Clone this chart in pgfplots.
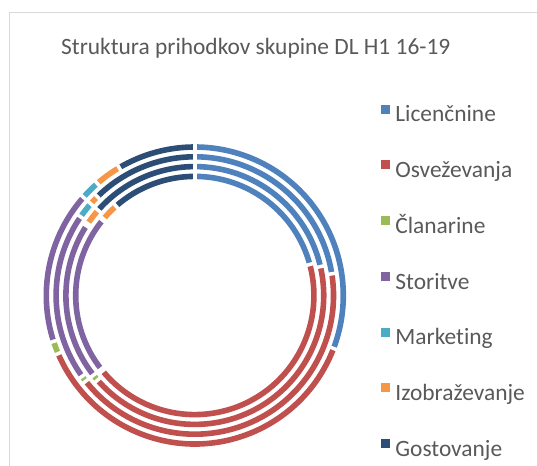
\documentclass[border=0pt]{standalone}
\usepackage{fontspec}
\setmainfont{Carlito}[Ligatures=NoCommon]
\usepackage{pgfplots}
\usepackage{pgfplotstable}
\pgfplotsset{compat=1.18}
\definecolor{cLic}{HTML}{4F81BD}
\definecolor{cOsv}{HTML}{C0504D}
\definecolor{cCla}{HTML}{9BBB59}
\definecolor{cSto}{HTML}{8064A2}
\definecolor{cMkt}{HTML}{4BACC6}
\definecolor{cIzo}{HTML}{F79646}
\definecolor{cGos}{HTML}{2C4D75}
\definecolor{txt}{HTML}{595959}
\definecolor{framec}{HTML}{D9D9D9}

% shares in percent; r1 = inner ring (H1 16) ... r4 = outer ring (H1 19)
\pgfplotstableread{
cat  r1   r2   r3   r4
Lic  20.8 21.4 22.5 30.8
Osv  43.3 42.2 41.9 37.8
Cla  0.3  0.8  0.7  1.4
Sto  21.5 19.7 19.5 16.5
Mkt  0.2  0.3  1.9  2.1
Izo  2.4  2.1  1.1  2.9
Gos  11.5 13.5 12.4 8.5
}\shares

\begin{document}
\begin{tikzpicture}
\begin{axis}[
  x=1bp, y=1bp, scale only axis,
  xmin=0, xmax=537, ymin=0, ymax=466,
  hide axis, clip=false,
  title={Struktura prihodkov skupine DL H1 16-19},
  title style={at={(0.1136,0.8712)}, anchor=base west, inner sep=0pt,
    font=\fontsize{23.4bp}{28bp}\selectfont, text=txt},
  legend style={at={(0.7095,0.7753)}, anchor=north west, draw=none, fill=none,
    inner sep=0pt, outer sep=0pt, row sep=32.55bp, column sep=6bp,
    font=\fontsize{23.4bp}{28bp}\selectfont, text=txt,
    nodes={inner sep=0pt, text height=17bp, text depth=6bp}},
  legend cell align=left,
]
\addlegendimage{legend image code/.code={\fill[cLic] (0bp,3.5bp) rectangle (8bp,11.5bp);}}
\addlegendentry{Licenčnine}
\addlegendimage{legend image code/.code={\fill[cOsv] (0bp,3.5bp) rectangle (8bp,11.5bp);}}
\addlegendentry{Osveževanja}
\addlegendimage{legend image code/.code={\fill[cCla] (0bp,3.5bp) rectangle (8bp,11.5bp);}}
\addlegendentry{Članarine}
\addlegendimage{legend image code/.code={\fill[cSto] (0bp,3.5bp) rectangle (8bp,11.5bp);}}
\addlegendentry{Storitve}
\addlegendimage{legend image code/.code={\fill[cMkt] (0bp,3.5bp) rectangle (8bp,11.5bp);}}
\addlegendentry{Marketing}
\addlegendimage{legend image code/.code={\fill[cIzo] (0bp,3.5bp) rectangle (8bp,11.5bp);}}
\addlegendentry{Izobraževanje}
\addlegendimage{legend image code/.code={\fill[cGos] (0bp,3.5bp) rectangle (8bp,11.5bp);}}
\addlegendentry{Gostovanje}

\draw[framec, line width=1bp] (axis cs:9.3,0) -- (axis cs:9.3,453.3) -- (axis cs:537,453.3);

\pgfplotsextra{
 \foreach \col/\rad in {r1/119.1, r2/128.9, r3/138.7, r4/148.5}{
   \gdef\cum{0}
   \foreach \row/\clr in {0/cLic,1/cOsv,2/cCla,3/cSto,4/cMkt,5/cIzo,6/cGos}{
     \pgfplotstablegetelem{\row}{\col}\of\shares
     \pgfmathsetmacro{\a}{90-3.6*\cum}
     \pgfmathsetmacro{\newcum}{\cum+\pgfplotsretval}
     \pgfmathsetmacro{\b}{90-3.6*\newcum}
     \draw[line width=5.6bp, color=\clr] (axis cs:194.8,170.5) ++(\a:\rad bp)
        arc[start angle=\a, end angle=\b, radius=\rad bp];
     \xdef\cum{\newcum}
   }
   \gdef\cum{0}
   \foreach \row in {0,...,6}{
     \pgfplotstablegetelem{\row}{\col}\of\shares
     \pgfmathsetmacro{\newcum}{\cum+\pgfplotsretval}
     \pgfmathsetmacro{\b}{90-3.6*\newcum}
     \pgfmathsetmacro{\rin}{\rad-4}
     \draw[white, line width=3.5bp] (axis cs:194.8,170.5) ++(\b:\rin bp) -- ++(\b:8bp);
     \xdef\cum{\newcum}
   }
 }
}
\end{axis}
\pgfresetboundingbox
\path (current axis.south west) rectangle (current axis.north east);
\end{tikzpicture}
\end{document}
